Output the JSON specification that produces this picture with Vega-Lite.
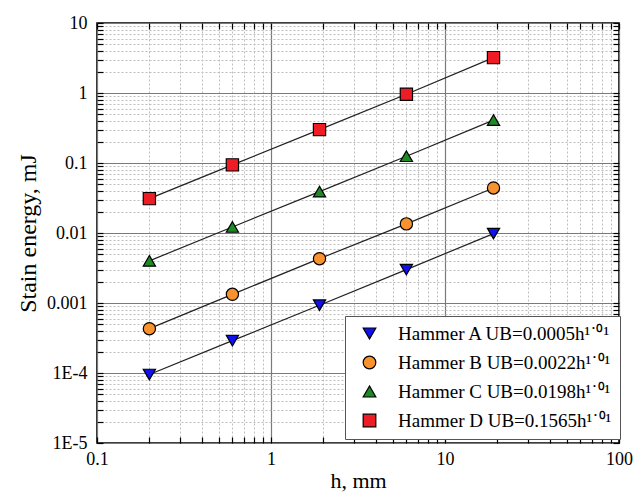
{
  "$schema": "https://vega.github.io/schema/vega-lite/v6.json",
  "width": 522,
  "height": 420,
  "autosize": "none",
  "padding": {"left": 97, "top": 23, "right": 19, "bottom": 55},
  "background": "white",
  "config": {
    "view": {"stroke": "black", "strokeWidth": 1.6},
    "font": "Liberation Serif"
  },
  "data": {
    "values": [
      {"hammer": "A", "h": 0.2, "U": 0.000095},
      {"hammer": "A", "h": 0.6, "U": 0.00029},
      {"hammer": "A", "h": 1.9, "U": 0.00093},
      {"hammer": "A", "h": 6, "U": 0.0030},
      {"hammer": "A", "h": 19, "U": 0.0098},
      {"hammer": "B", "h": 0.2, "U": 0.00043},
      {"hammer": "B", "h": 0.6, "U": 0.00133},
      {"hammer": "B", "h": 1.9, "U": 0.0043},
      {"hammer": "B", "h": 6, "U": 0.0135},
      {"hammer": "B", "h": 19, "U": 0.044},
      {"hammer": "C", "h": 0.2, "U": 0.0040},
      {"hammer": "C", "h": 0.6, "U": 0.0122},
      {"hammer": "C", "h": 1.9, "U": 0.039},
      {"hammer": "C", "h": 6, "U": 0.125},
      {"hammer": "C", "h": 19, "U": 0.41},
      {"hammer": "D", "h": 0.2, "U": 0.031},
      {"hammer": "D", "h": 0.6, "U": 0.094},
      {"hammer": "D", "h": 1.9, "U": 0.30},
      {"hammer": "D", "h": 6, "U": 0.96},
      {"hammer": "D", "h": 19, "U": 3.2}
    ]
  },
  "resolve": {"axis": {"x": "independent", "y": "independent"}},
  "layer": [
    {
      "mark": {"type": "line", "color": "#222", "strokeWidth": 1.2},
      "encoding": {
        "x": {
          "field": "h", "type": "quantitative",
          "scale": {"type": "log", "domain": [0.1, 100], "nice": false},
          "axis": {
            "orient": "bottom",
            "title": "h, mm",
            "titleFont": "Liberation Serif", "titleFontSize": 22, "titleFontWeight": "normal", "titleColor": "black", "titlePadding": 2,
            "values": [0.1,0.2,0.3,0.4,0.5,0.6,0.7,0.8,0.9,1,2,3,4,5,6,7,8,9,10,20,30,40,50,60,70,80,90,100],
            "labelExpr": "datum.value == 0.1 ? '0.1' : datum.value == 1 ? '1' : datum.value == 10 ? '10' : datum.value == 100 ? '100' : ''",
            "labelFont": "Liberation Serif", "labelFontSize": 18, "labelColor": "black",
            "labelOverlap": false, "labelFlush": false, "labelBound": false,
            "labelPadding": 13,
            "domain": false,
            "tickColor": "black",
            "tickWidth": 1.2,
            "tickSize": -6,
            "grid": true,
            "gridColor": {"condition": {"test": "abs(log(datum.value)/LN10 - round(log(datum.value)/LN10)) < 0.001", "value": "#7a7a7a"}, "value": "#bdbdbd"},
            "gridDash": {"condition": {"test": "abs(log(datum.value)/LN10 - round(log(datum.value)/LN10)) < 0.001", "value": [4, 0]}, "value": [2, 2]},
            "gridWidth": {"condition": {"test": "abs(log(datum.value)/LN10 - round(log(datum.value)/LN10)) < 0.001", "value": 1.2}, "value": 1}
          }
        },
        "y": {
          "field": "U", "type": "quantitative",
          "scale": {"type": "log", "domain": [0.00001, 10], "nice": false},
          "axis": {
            "orient": "left",
            "title": "Stain energy, mJ",
            "titleFont": "Liberation Serif", "titleFontSize": 24, "titleFontWeight": "normal", "titleColor": "black", "titlePadding": 6,
            "values": [0.00001,0.00002,0.00003,0.00004,0.00005,0.00006,0.00007,0.00008,0.00009,0.0001,0.0002,0.0003,0.0004,0.0005,0.0006,0.0007,0.0008,0.0009,0.001,0.002,0.003,0.004,0.005,0.006,0.007,0.008,0.009,0.01,0.02,0.03,0.04,0.05,0.06,0.07,0.08,0.09,0.1,0.2,0.3,0.4,0.5,0.6,0.7,0.8,0.9,1,2,3,4,5,6,7,8,9,10],
            "labelExpr": "datum.value == 10 ? '10' : datum.value == 1 ? '1' : datum.value == 0.1 ? '0.1' : datum.value == 0.01 ? '0.01' : datum.value == 0.001 ? '0.001' : datum.value == 0.0001 ? '1E-4' : datum.value == 0.00001 ? '1E-5' : ''",
            "labelFont": "Liberation Serif", "labelFontSize": 18, "labelColor": "black",
            "labelOverlap": false, "labelFlush": false, "labelBound": false,
            "labelPadding": 16,
            "domain": false,
            "tickColor": "black",
            "tickWidth": 1.2,
            "tickSize": -6,
            "grid": true,
            "gridColor": {"condition": {"test": "abs(log(datum.value)/LN10 - round(log(datum.value)/LN10)) < 0.001", "value": "#7a7a7a"}, "value": "#bdbdbd"},
            "gridDash": {"condition": {"test": "abs(log(datum.value)/LN10 - round(log(datum.value)/LN10)) < 0.001", "value": [4, 0]}, "value": [2, 2]},
            "gridWidth": {"condition": {"test": "abs(log(datum.value)/LN10 - round(log(datum.value)/LN10)) < 0.001", "value": 1.2}, "value": 1}
          }
        },
        "detail": {"field": "hammer", "type": "nominal"}
      }
    },
    {
      "mark": {"type": "point", "filled": true, "stroke": "black", "strokeWidth": 1.2, "opacity": 1, "size": 150},
      "encoding": {
        "x": {
          "field": "h", "type": "quantitative",
          "axis": {
            "orient": "top", "title": null, "labels": false, "domain": false, "grid": false,
            "values": [0.1,0.2,0.3,0.4,0.5,0.6,0.7,0.8,0.9,1,2,3,4,5,6,7,8,9,10,20,30,40,50,60,70,80,90,100],
            "tickColor": "black",
            "tickWidth": 1.2,
            "tickSize": -6
          }
        },
        "y": {
          "field": "U", "type": "quantitative",
          "axis": {
            "orient": "right", "title": null, "labels": false, "domain": false, "grid": false,
            "values": [0.00001,0.00002,0.00003,0.00004,0.00005,0.00006,0.00007,0.00008,0.00009,0.0001,0.0002,0.0003,0.0004,0.0005,0.0006,0.0007,0.0008,0.0009,0.001,0.002,0.003,0.004,0.005,0.006,0.007,0.008,0.009,0.01,0.02,0.03,0.04,0.05,0.06,0.07,0.08,0.09,0.1,0.2,0.3,0.4,0.5,0.6,0.7,0.8,0.9,1,2,3,4,5,6,7,8,9,10],
            "tickColor": "black",
            "tickWidth": 1.2,
            "tickSize": -6
          }
        },
        "fill": {
          "field": "hammer", "type": "nominal",
          "scale": {"domain": ["A", "B", "C", "D"], "range": ["#1010f0", "#f7922e", "#1e8a24", "#ee1c24"]},
          "legend": {
            "title": null,
            "orient": "none", "legendX": 248, "legendY": 293,
            "direction": "vertical",
            "fillColor": "white", "strokeColor": "#555",
            "padding": 8,
            "rowPadding": 9,
            "symbolOffset": 7,
            "symbolSize": 160, "symbolStrokeColor": "black", "symbolStrokeWidth": 1.2,
            "labelFont": "Liberation Serif", "labelFontSize": 19, "labelColor": "black", "labelLimit": 400, "labelOffset": 19,
            "labelExpr": "datum.value == 'A' ? 'Hammer A UB=0.0005h¹˙⁰¹' : datum.value == 'B' ? 'Hammer B UB=0.0022h¹˙⁰¹' : datum.value == 'C' ? 'Hammer C UB=0.0198h¹˙⁰¹' : 'Hammer D UB=0.1565h¹˙⁰¹'"
          }
        },
        "shape": {
          "field": "hammer", "type": "nominal",
          "scale": {"domain": ["A", "B", "C", "D"], "range": ["triangle-down", "circle", "triangle-up", "square"]}
        }
      }
    }
  ]
}
